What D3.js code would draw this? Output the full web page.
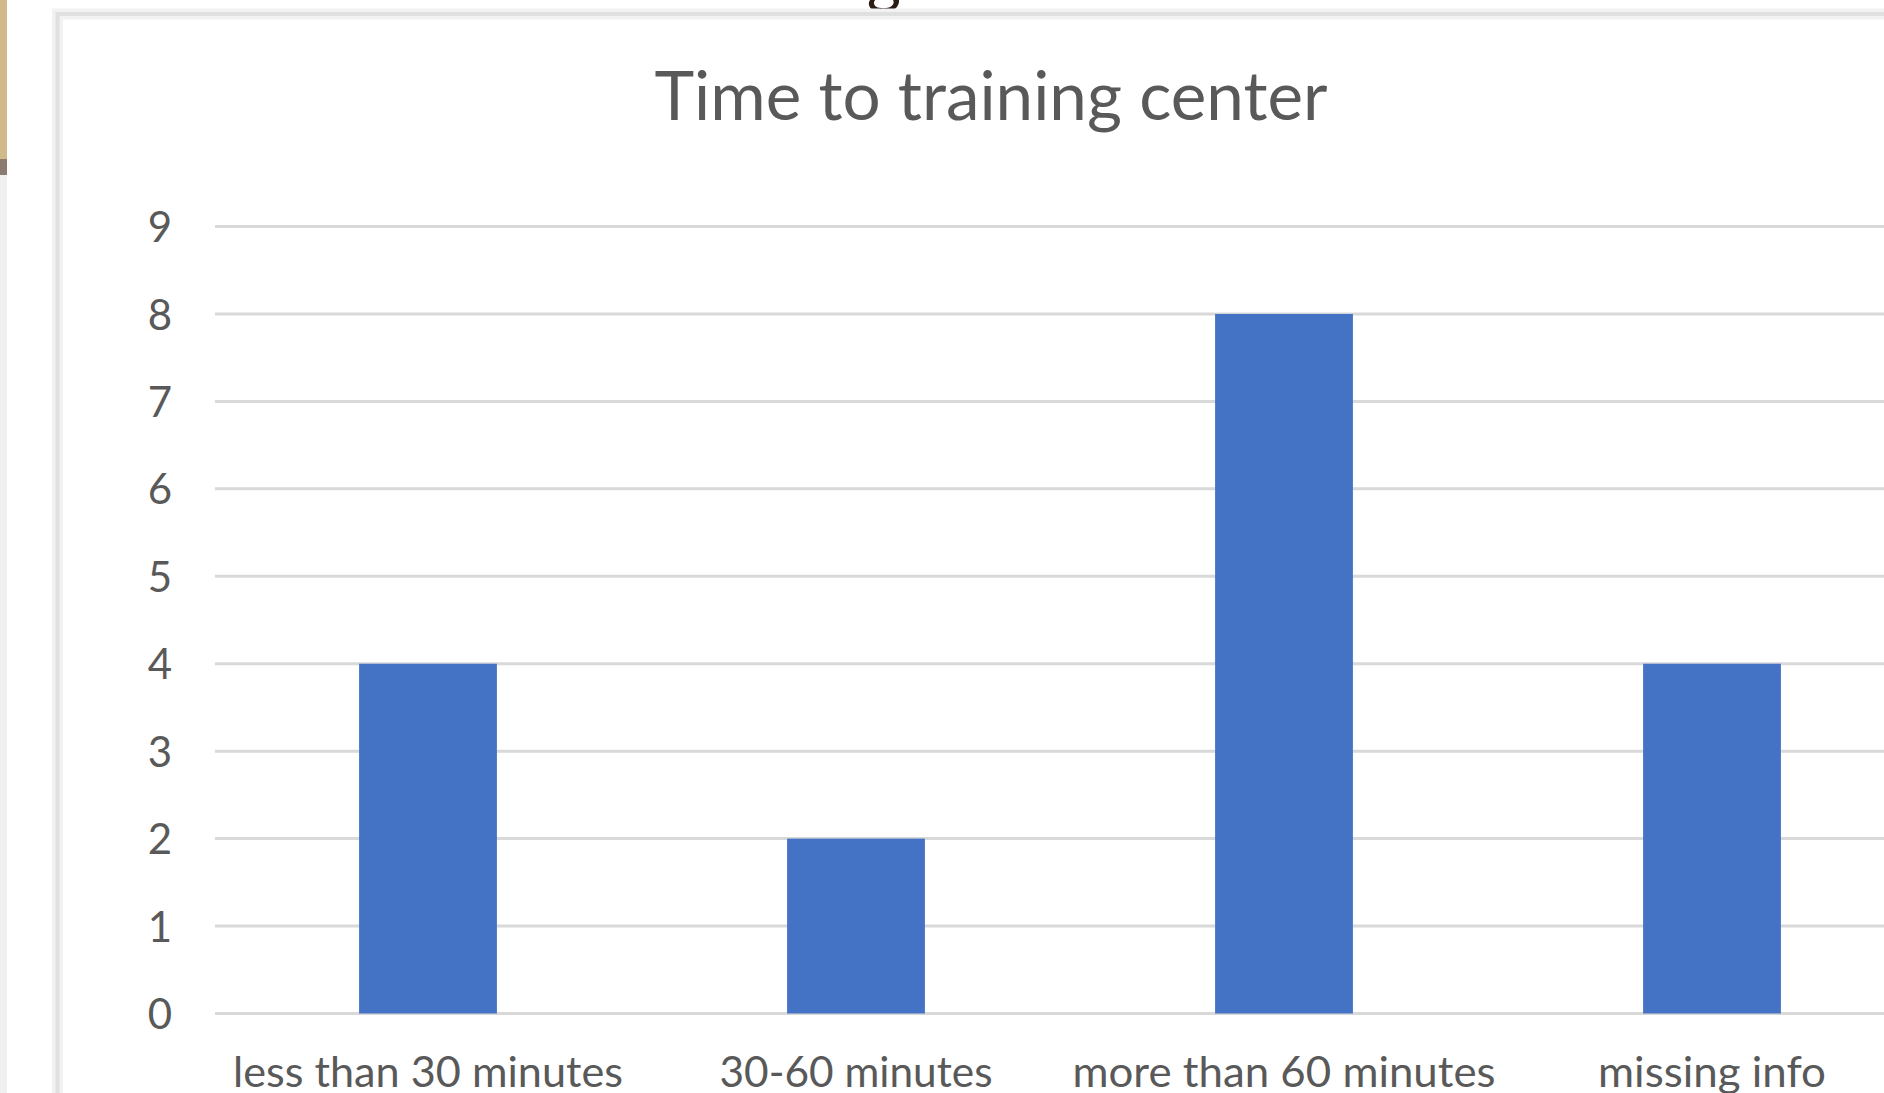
<!DOCTYPE html>
<html>
<head>
<meta charset="utf-8">
<script src="https://cdn.jsdelivr.net/npm/d3@7/dist/d3.min.js"></script>
<style>
  html, body { margin: 0; padding: 0; background: #ffffff; overflow: hidden; }
  svg { display: block; }
</style>
</head>
<body>
<svg id="chart" width="1884" height="1093"></svg>
<script>
// Chart data
const categories = ["less than 30 minutes", "30-60 minutes", "more than 60 minutes", "missing info"];
const counts = [4, 2, 8, 4];
const yTicks = [0, 1, 2, 3, 4, 5, 6, 7, 8, 9];
const chartTitle = "Time to training center";

const W = 1884, H = 1093;
const svg = d3.select("#chart");
const font = "Lato, 'Open Sans', 'Noto Sans', sans-serif";
const textColor = "#595959";

// Slide edge on the left
svg.append("rect").attr("x", 0).attr("y", 0).attr("width", 7).attr("height", 159).attr("fill", "#d0b98b");
svg.append("rect").attr("x", 0).attr("y", 159).attr("width", 7).attr("height", 16).attr("fill", "#8c7b71");
svg.append("rect").attr("x", 0).attr("y", 175).attr("width", 7).attr("height", H - 175).attr("fill", "#f0f0f0");

// Descender of the slide heading above the chart frame
svg.append("text")
  .attr("x", 884).attr("y", 1)
  .attr("text-anchor", "middle")
  .attr("font-family", font)
  .attr("font-size", 66)
  .attr("fill", "#2a1d15")
  .text("g");

// Chart frame
svg.append("rect")
  .attr("x", 57.5).attr("y", 14).attr("width", 2000).attr("height", 2000)
  .attr("fill", "none").attr("stroke", "#f2f2f2").attr("stroke-width", 11);
svg.append("rect")
  .attr("x", 57.5).attr("y", 14).attr("width", 2000).attr("height", 2000)
  .attr("fill", "none").attr("stroke", "#e0e0e0").attr("stroke-width", 4);

// Scales
const x = d3.scaleBand()
  .domain(categories)
  .range([214, 1926])
  .paddingInner(0.678)
  .paddingOuter(0.339);

const y = d3.scaleLinear()
  .domain([0, 9])
  .range([1013.5, 226.5]);

// Horizontal gridlines
svg.append("g")
  .selectAll("line")
  .data(yTicks)
  .join("line")
  .attr("x1", 215).attr("x2", W)
  .attr("y1", d => y(d)).attr("y2", d => y(d))
  .attr("stroke", "#d9d9d9")
  .attr("stroke-width", 3);

// Bars
svg.append("g")
  .selectAll("rect")
  .data(categories)
  .join("rect")
  .attr("x", d => x(d))
  .attr("width", x.bandwidth())
  .attr("y", (d, i) => y(counts[i]))
  .attr("height", (d, i) => y(0) - y(counts[i]))
  .attr("fill", "#4472c4");

// Y axis labels
const yAxis = d3.axisLeft(y).tickValues(yTicks).tickSize(0).tickPadding(0);
const yg = svg.append("g").attr("transform", "translate(172,0)").call(yAxis);
yg.select(".domain").remove();
yg.selectAll("text")
  .attr("font-family", font)
  .attr("font-size", 42)
  .attr("fill", textColor)
  .attr("dy", "0.36em");

// X axis labels
const xWidths = [390, 273, 423, 228];
const xAxis = d3.axisBottom(x).tickSize(0).tickPadding(0);
const xg = svg.append("g").attr("transform", "translate(0,1087)").call(xAxis);
xg.select(".domain").remove();
xg.selectAll("text")
  .attr("font-family", font)
  .attr("font-size", 43)
  .attr("fill", textColor)
  .attr("dy", 0)
  .attr("textLength", (d, i) => xWidths[i])
  .attr("lengthAdjust", "spacingAndGlyphs");

// Title
svg.append("text")
  .attr("x", 991).attr("y", 120)
  .attr("text-anchor", "middle")
  .attr("font-family", font)
  .attr("font-size", 68)
  .attr("fill", textColor)
  .attr("textLength", 673)
  .attr("lengthAdjust", "spacingAndGlyphs")
  .text(chartTitle);
</script>
</body>
</html>
